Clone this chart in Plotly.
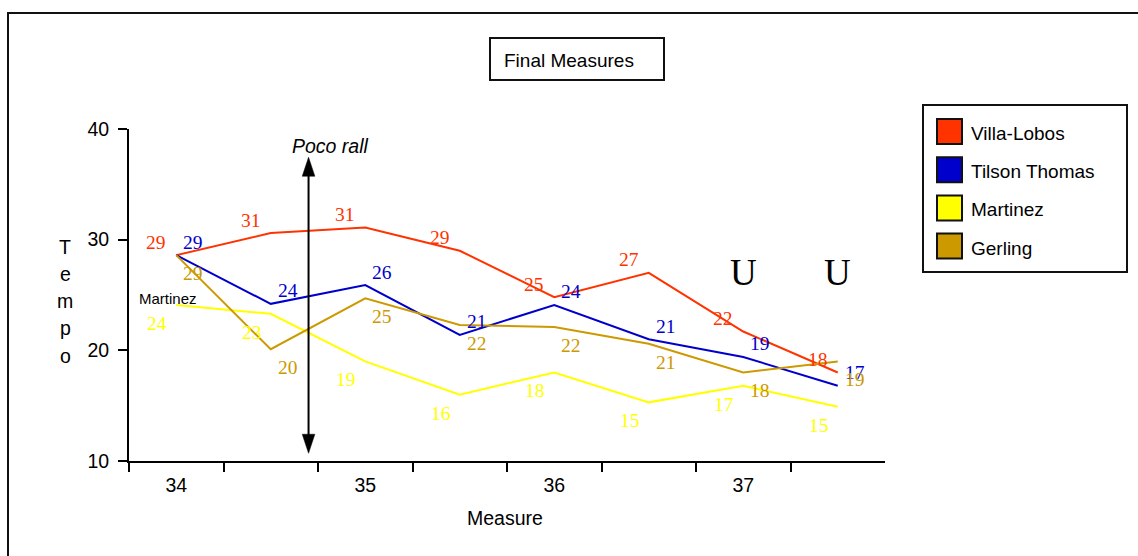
import plotly.graph_objects as go

# Tempo readings per half-measure for each performance
measures = [34, 34.5, 35, 35.5, 36, 36.5, 37, 37.5]
villa_lobos = [28.6, 30.6, 31.1, 29.0, 24.8, 27.0, 21.7, 18.0]
tilson_thomas = [28.6, 24.2, 25.9, 21.4, 24.1, 21.0, 19.4, 16.8]
martinez = [24.1, 23.3, 19.0, 16.0, 18.0, 15.3, 16.8, 14.9]
gerling = [28.6, 20.1, 24.7, 22.3, 22.1, 20.6, 18.0, 19.0]

series_names = ["Villa-Lobos", "Tilson Thomas", "Martinez", "Gerling"]
series_values = [villa_lobos, tilson_thomas, martinez, gerling]
series_colors = ["#FF3300", "#0000CC", "#FFFF00", "#CC9900"]
# value-label offsets (pixels) for each series
label_shift = [(-20, 13), (17, 13), (-19, -18.5), (17, -18.5)]

x_tick_vals = [34, 35, 36, 37]
x_tick_text = ["34", "35", "36", "37"]
y_tick_vals = [10, 20, 30, 40]

W, H = 1138, 556
PL, PR, PT, PB = 129, 885, 129, 461

SANS = "Liberation Sans, Arial, sans-serif"
SERIF = "Liberation Serif, Times New Roman, serif"


def px(x):
    return (x - PL) / (PR - PL)


def py(y):
    return (PB - y) / (PB - PT)


def label(x, y, text, font, xref="paper", yref="paper", xanchor="center", **kw):
    return dict(x=x, y=y, xref=xref, yref=yref, text=text, showarrow=False,
                xanchor=xanchor, yanchor="middle", font=font, **kw)


fig = go.Figure()
for name, vals, color in zip(series_names, series_values, series_colors):
    fig.add_trace(go.Scatter(x=measures, y=vals, mode="lines", name=name,
                             line=dict(color=color, width=2), showlegend=False))

annotations = []
for vals, color, (dx, dy) in zip(series_values, series_colors, label_shift):
    for m, v in zip(measures, vals):
        annotations.append(label(m, v, f"{v:.0f}",
                                 dict(family=SERIF, size=19.5, color=color),
                                 xref="x", yref="y", xshift=dx, yshift=dy))

shapes = []
# outer frame
shapes.append(dict(type="rect", xref="paper", yref="paper",
                   x0=px(8), x1=px(1150), y0=py(13), y1=py(570),
                   line=dict(color="#111", width=2)))
# title box
shapes.append(dict(type="rect", xref="paper", yref="paper",
                   x0=px(490), x1=px(664), y0=py(38), y1=py(80),
                   line=dict(color="#111", width=2)))
annotations.append(label(px(569), py(61), "Final Measures",
                         dict(family=SANS, size=19, color="black")))

# legend
shapes.append(dict(type="rect", xref="paper", yref="paper",
                   x0=px(923), x1=px(1127), y0=py(105), y1=py(272),
                   line=dict(color="#111", width=2)))
for i, (name, color) in enumerate(zip(series_names, series_colors)):
    cy = 131.5 + i * 38.2
    shapes.append(dict(type="rect", xref="paper", yref="paper",
                       x0=px(937), x1=px(962), y0=py(cy - 12.5), y1=py(cy + 12.5),
                       fillcolor=color, line=dict(color="#111", width=2)))
    annotations.append(label(px(969), py(cy + 2), name,
                             dict(family=SANS, size=19, color="black"),
                             xanchor="left"))

# Poco rall arrow
arrow_x, arrow_top, arrow_bottom = 34.7, 37.45, 10.7
shapes.append(dict(type="line", xref="x", yref="y", x0=arrow_x, x1=arrow_x,
                   y0=arrow_bottom + 1, y1=arrow_top - 1,
                   line=dict(color="black", width=2)))
shapes.append(dict(type="path", xref="x", yref="y", xsizemode="pixel", ysizemode="pixel",
                   xanchor=arrow_x, yanchor=arrow_top,
                   path="M 0 0 L -6.3 -19 L 6.3 -19 Z",
                   fillcolor="black", line=dict(color="black", width=0.5)))
shapes.append(dict(type="path", xref="x", yref="y", xsizemode="pixel", ysizemode="pixel",
                   xanchor=arrow_x, yanchor=arrow_bottom,
                   path="M 0 0 L -6.3 19 L 6.3 19 Z",
                   fillcolor="black", line=dict(color="black", width=0.5)))
annotations.append(label(px(330), py(146), "<i>Poco rall</i>",
                         dict(family=SANS, size=19.5, color="black")))

# series tag and bowing marks
annotations.append(label(px(168), py(298), "Martinez",
                         dict(family=SANS, size=15, color="black")))
for m in [37, 37.5]:
    annotations.append(label(m, py(272), "U",
                             dict(family=SERIF, size=37, color="black"), xref="x"))

# axis titles
for letter, yy in zip("Tempo", [246.7, 274, 301, 328, 355.5]):
    annotations.append(label(px(65), py(yy), letter,
                             dict(family=SANS, size=19.5, color="black")))
annotations.append(label(px(505), py(518), "Measure",
                         dict(family=SANS, size=19.5, color="black")))

fig.update_layout(
    width=W, height=H,
    margin=dict(l=PL, r=W - PR, t=PT, b=H - PB, pad=0),
    paper_bgcolor="white", plot_bgcolor="white",
    showlegend=False,
    shapes=shapes, annotations=annotations,
    xaxis=dict(range=[33.75, 37.75], tickmode="array",
               tickvals=x_tick_vals, ticktext=x_tick_text,
               ticks="outside", ticklen=6, tickcolor="rgba(0,0,0,0)",
               showgrid=False, zeroline=False,
               showline=True, linecolor="black", linewidth=2,
               tickfont=dict(family=SANS, size=19.5, color="black"),
               minor=dict(tickmode="array",
                          tickvals=[m - 0.25 for m in measures],
                          ticks="outside", ticklen=9, tickwidth=2,
                          tickcolor="black", showgrid=False)),
    yaxis=dict(range=[10, 40], tickmode="array", tickvals=y_tick_vals,
               ticks="outside", ticklen=9, tickwidth=2, tickcolor="black",
               ticklabelstandoff=5,
               showgrid=False, zeroline=False,
               showline=True, linecolor="black", linewidth=2,
               tickfont=dict(family=SANS, size=19.5, color="black")),
)

fig.write_html("out.html")
